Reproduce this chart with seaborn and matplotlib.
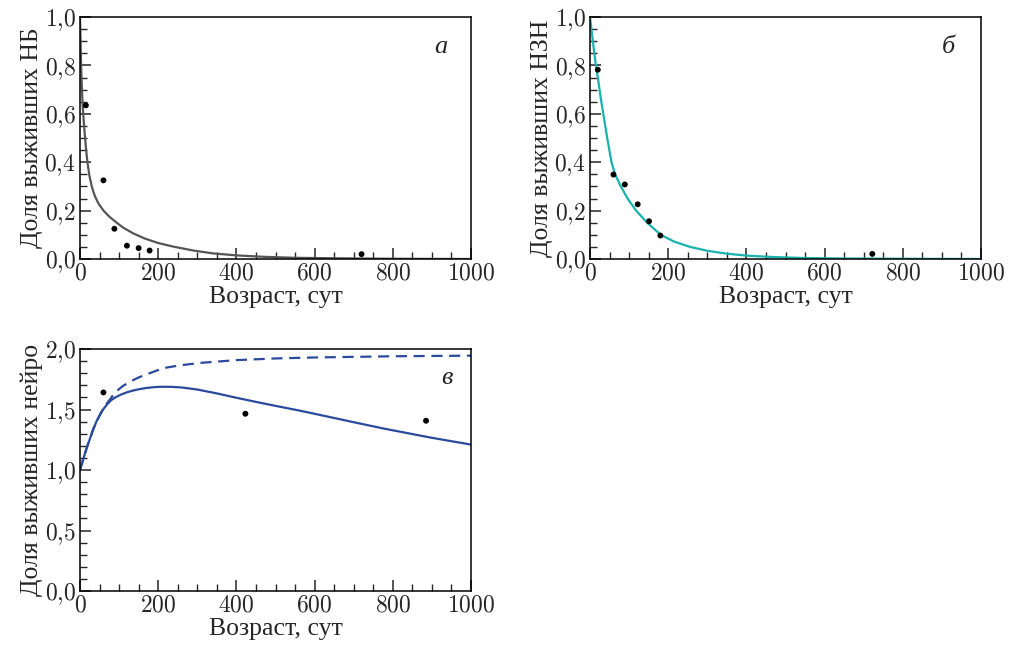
import matplotlib
matplotlib.use("Agg")
import matplotlib.pyplot as plt
from matplotlib.ticker import MultipleLocator, FuncFormatter
import seaborn as sns

# data
# panel a - НБ
a_pts_x = [15, 60, 88, 120, 150, 178, 720]
a_pts_y = [0.635, 0.325, 0.125, 0.055, 0.045, 0.035, 0.02]
a_curve_x = [0, 1, 2, 3, 5, 7, 10, 13, 16, 19, 24, 30, 38, 47, 60, 75, 90, 110, 136, 165, 200, 239, 290, 341, 400, 470, 550, 650, 800, 1000]
a_curve_y = [1.0, 0.93, 0.85, 0.79, 0.7, 0.63, 0.56, 0.5, 0.445, 0.4, 0.345, 0.3, 0.26, 0.23, 0.2, 0.175, 0.155, 0.13, 0.106, 0.085, 0.066, 0.051, 0.035, 0.023, 0.015, 0.009, 0.005, 0.003, 0.001, 0.0]

# panel б - НЗН
b_pts_x = [20, 60, 89, 122, 151, 180, 722]
b_pts_y = [0.782, 0.349, 0.308, 0.226, 0.156, 0.097, 0.021]
b_curve_x = [0, 5, 10, 15, 20, 27, 34, 44, 55, 64, 79, 96, 118, 146, 181, 215, 256, 300, 350, 400, 470, 550, 650, 800, 1000]
b_curve_y = [1.0, 0.93, 0.865, 0.8, 0.75, 0.67, 0.6, 0.5, 0.4, 0.35, 0.3, 0.25, 0.2, 0.15, 0.1, 0.072, 0.05, 0.034, 0.022, 0.014, 0.008, 0.004, 0.002, 0.001, 0.0]

# panel в - нейро
c_pts_x = [60, 423, 885]
c_pts_y = [1.641, 1.465, 1.407]
c_solid_x = [0, 6, 12, 18, 25, 33, 42, 50, 59, 70, 80, 92, 106, 120, 135, 150, 170, 190, 210, 235, 260, 300, 350, 400, 450, 500, 563, 650, 700, 776, 800, 900, 1000]
c_solid_y = [1.0, 1.065, 1.13, 1.19, 1.255, 1.33, 1.4, 1.45, 1.5, 1.545, 1.578, 1.603, 1.625, 1.642, 1.656, 1.667, 1.678, 1.685, 1.688, 1.687, 1.682, 1.665, 1.633, 1.597, 1.563, 1.53, 1.49, 1.43, 1.395, 1.343, 1.328, 1.266, 1.21]
c_dash_x = [0, 6, 12, 18, 25, 33, 42, 50, 59, 65, 76, 86, 97, 110, 131, 150, 170, 213, 256, 307, 400, 500, 600, 800, 1000]
c_dash_y = [1.0, 1.065, 1.13, 1.19, 1.255, 1.33, 1.4, 1.45, 1.505, 1.535, 1.58, 1.625, 1.661, 1.695, 1.735, 1.765, 1.79, 1.842, 1.865, 1.885, 1.908, 1.922, 1.93, 1.94, 1.945]

sns.set_style("ticks")
plt.rcParams["font.family"] = ["Liberation Serif", "DejaVu Serif"]
plt.rcParams["mathtext.fontset"] = "cm"

fig = plt.figure(figsize=(10.09, 6.47), dpi=100)
W, H = 1009, 647


def make_ax(x0, y0, x1, y1):
    return fig.add_axes([x0 / W, 1 - y1 / H, (x1 - x0) / W, (y1 - y0) / H])


def comma_fmt(v, pos):
    return "$" + f"{v:.1f}".replace(".", "{,}") + "$"


def style_ax(ax, ymax, ymajor, yminor, ylabel):
    ax.set_xlim(0, 1000)
    ax.set_ylim(0, ymax)
    ax.xaxis.set_major_locator(MultipleLocator(200))
    ax.xaxis.set_minor_locator(MultipleLocator(50))
    ax.yaxis.set_major_locator(MultipleLocator(ymajor))
    ax.yaxis.set_minor_locator(MultipleLocator(yminor))
    ax.xaxis.set_major_formatter(FuncFormatter(lambda v, p: f"${int(v)}$"))
    ax.yaxis.set_major_formatter(FuncFormatter(comma_fmt))
    ax.tick_params(which="major", direction="in", length=8, width=1.1, labelsize=17, pad=3,
                   top=False, right=False)
    ax.tick_params(which="minor", direction="in", length=5, width=1.0, top=False, right=False)
    for sp in ax.spines.values():
        sp.set_linewidth(1.1)
        sp.set_color("black")
    ax.set_xlabel("Возраст, сут", fontsize=18.5, labelpad=1)
    ax.set_ylabel(ylabel, fontsize=18.5, labelpad=1)


# panel а
ax1 = make_ax(80, 17, 471, 259)
sns.lineplot(x=a_curve_x, y=a_curve_y, ax=ax1, color="#555555", lw=1.6, sort=False)
sns.scatterplot(x=a_pts_x, y=a_pts_y, ax=ax1, color="black", s=18, edgecolor="none", zorder=3)
style_ax(ax1, 1.0, 0.2, 0.05, "Доля выживших НБ")
ax1.text(923, 0.876, "а", fontsize=19, style="italic", ha="center", va="center")

# panel б
ax2 = make_ax(590, 17, 981, 259)
sns.lineplot(x=b_curve_x, y=b_curve_y, ax=ax2, color="#17b3ad", lw=1.6, sort=False)
sns.scatterplot(x=b_pts_x, y=b_pts_y, ax=ax2, color="black", s=18, edgecolor="none", zorder=3)
style_ax(ax2, 1.0, 0.2, 0.05, "Доля выживших НЗН")
ax2.text(916, 0.876, "б", fontsize=19, style="italic", ha="center", va="center")

# panel в
ax3 = make_ax(80, 349, 471, 591)
sns.lineplot(x=c_solid_x, y=c_solid_y, ax=ax3, color="#2b4a9e", lw=1.6, sort=False)
sns.lineplot(x=c_dash_x, y=c_dash_y, ax=ax3, color="#2b4a9e", lw=1.6, sort=False, linestyle=(0, (5, 3)))
sns.scatterplot(x=c_pts_x, y=c_pts_y, ax=ax3, color="black", s=18, edgecolor="none", zorder=3)
style_ax(ax3, 2.0, 0.5, 0.1, "Доля выживших нейро")
ax3.text(939, 1.76, "в", fontsize=19, style="italic", ha="center", va="center")

fig.savefig("out.png", dpi=100)
